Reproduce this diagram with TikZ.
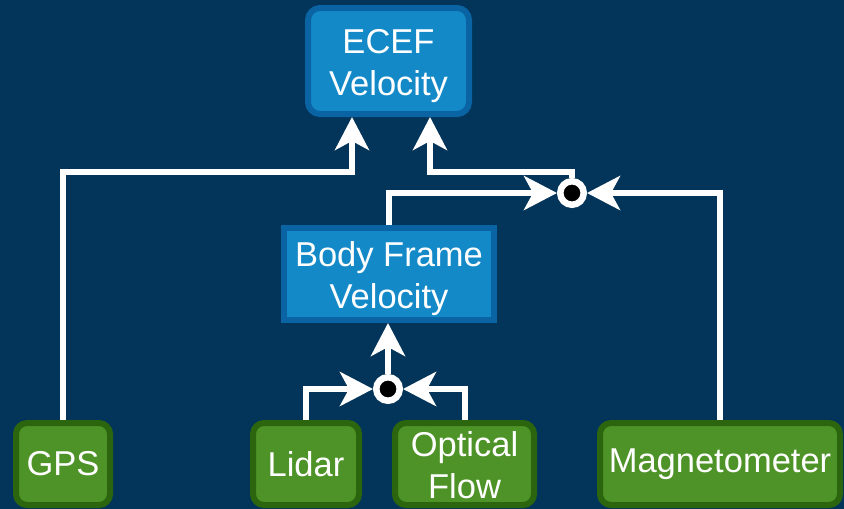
\documentclass[tikz,border=0pt]{standalone}
\usepackage{fontspec}
\setmainfont{Liberation Sans}
\usetikzlibrary{arrows.meta}
\definecolor{bgnavy}{RGB}{3,52,89}
\definecolor{bluefill}{RGB}{20,137,200}
\definecolor{blueedge}{RGB}{10,100,164}
\definecolor{greenfill}{RGB}{78,147,39}
\definecolor{greenedge}{RGB}{43,101,14}
\tikzset{
  lbl/.style={text=white, font=\fontsize{34.5}{42}\selectfont, align=center, inner sep=0pt},
  outbox/.style={draw=blueedge, fill=bluefill, line width=6pt, inner sep=0pt},
  inbox/.style={lbl, draw=greenedge, fill=greenfill, line width=6pt, rounded corners=11pt},
  junc/.style={circle, draw=white, fill=black, line width=6.5pt, minimum size=23.5pt, inner sep=0pt},
  wire/.style={draw=white, line width=6pt},
  arr/.style={wire, -{Stealth[length=33pt, width=34pt, inset=9pt]}}
}
\begin{document}
\begin{tikzpicture}[x=1pt, y=-1pt]
  % canvas
  \fill[bgnavy] (0,0) rectangle (844,509);
  \useasboundingbox (0,0) rectangle (844,509);

  % estimates (box, then its two-line caption)
  \node[outbox, rounded corners=12pt, minimum width=161pt, minimum height=106pt] (ecef) at (388.5,61) {};
  \node[lbl] (ecefText) at ([yshift=-5pt]ecef.center) {ECEF\\Velocity};
  \node[outbox, minimum width=210pt, minimum height=92pt] (body) at (389,274) {};
  \node[lbl] (bodyText) at ([yshift=-5pt]body.center) {Body Frame\\Velocity};

  % sensors
  \node[inbox, minimum width=94pt, minimum height=82pt] (gps) at (63,464) {GPS};
  \node[inbox, minimum width=106pt, minimum height=82pt] (lidar) at (306,464) {Lidar};
  \node[inbox, minimum width=139pt, minimum height=82pt] (flow) at (464.5,464) {};
  \node[lbl] (flowText) at ([yshift=-1.5pt]flow.center) {Optical\\Flow};
  \node[inbox, minimum width=240pt, minimum height=82pt] (mag) at (720,464) {Magnetometer};

  % fusion points
  \node[junc] (jtop) at (572,193) {};
  \node[junc] (jbot) at (388,389) {};

  % routing corners
  \coordinate (gpsbend) at (63,172);
  \coordinate (gpsin) at (352,172);
  \coordinate (jout) at (572,172);
  \coordinate (fusein) at (430,172);

  % GPS straight to the ECEF estimate
  \draw[arr] (gps.north) -- (gpsbend) -- (gpsin) -- (gpsin |- ecef.south);

  % body-frame velocity and heading fused into ECEF velocity
  \draw[arr] (body.north) |- (jtop);
  \draw[arr] (mag.north) |- (jtop);
  \draw[arr] (jtop.north) -- (jout) -- (fusein) -- (fusein |- ecef.south);

  % lidar and optical flow fused into body-frame velocity
  \draw[arr] (lidar.north) |- (jbot);
  \draw[arr] (flow.north) |- (jbot);
  \draw[arr] (jbot) -- (body.south -| jbot);
\end{tikzpicture}
\end{document}
